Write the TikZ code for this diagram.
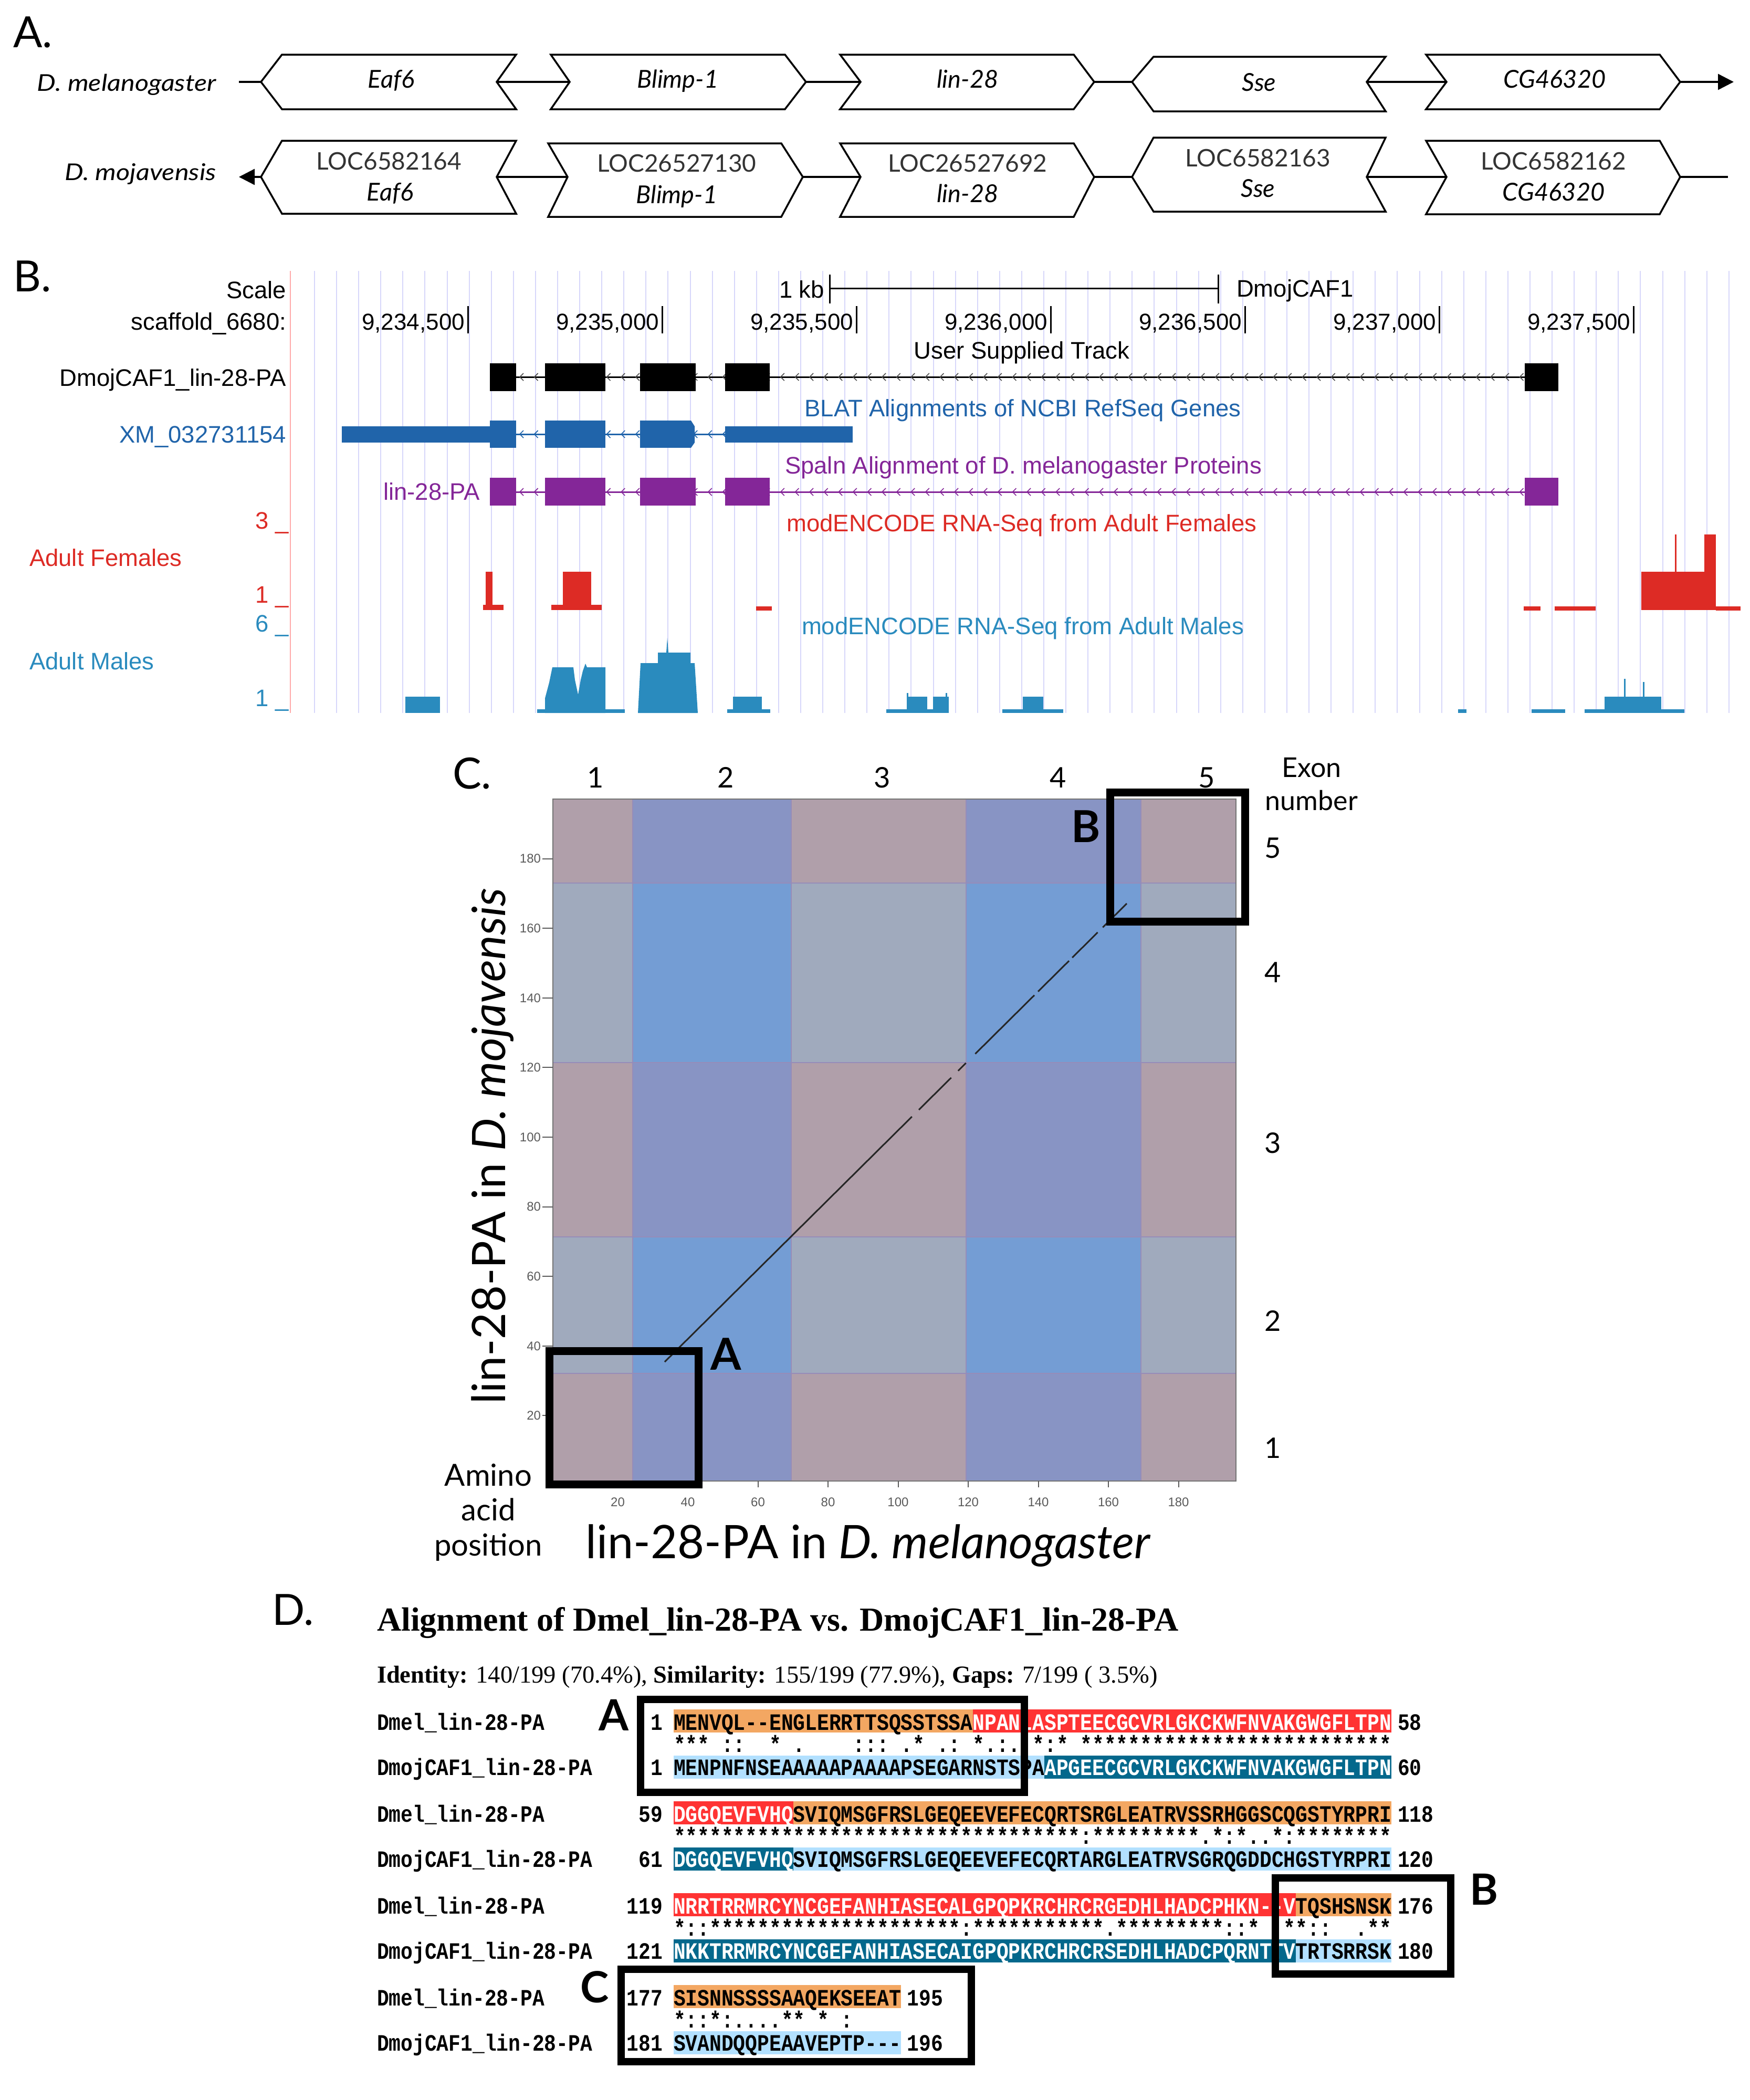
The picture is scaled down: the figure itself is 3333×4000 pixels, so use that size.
\documentclass[tikz,border=0pt]{standalone}
\usepackage{fontspec}
\setmainfont{Lato}
\newfontfamily\wideit[FakeStretch=1.15]{Lato}
\newfontfamily\ucsc{Liberation Sans}
\newfontfamily\tms{Liberation Serif}
\setmonofont[FakeStretch=0.85]{Liberation Mono}
\usetikzlibrary{arrows.meta,calc}
\newcommand{\fsz}[1]{\fontsize{#1pt}{#1pt}\selectfont}
\ExplSyntaxOn
\newcommand{\rep}[2]{\prg_replicate:nn{#1}{#2}}
\ExplSyntaxOff
% colours
\definecolor{ucblue}{RGB}{32,100,170}
\definecolor{ucpurp}{RGB}{132,38,152}
\definecolor{ucred}{RGB}{221,43,37}
\definecolor{ucsky}{RGB}{42,139,190}
\definecolor{gridc}{RGB}{215,215,250}
\definecolor{redline}{RGB}{255,170,170}
\definecolor{cc3}{RGB}{176,159,170}
\definecolor{cc1}{RGB}{136,148,196}
\definecolor{cc2}{RGB}{160,170,189}
\definecolor{cc0}{RGB}{116,157,212}
\definecolor{bandl}{RGB}{150,140,185}
\definecolor{ao}{RGB}{243,167,98}
\definecolor{ar}{RGB}{255,51,51}
\definecolor{adb}{RGB}{4,104,140}
\definecolor{alb}{RGB}{178,224,255}
\definecolor{locgray}{RGB}{51,51,51}
\definecolor{tickgray}{RGB}{90,90,90}
\tikzset{
  every node/.style={inner sep=0pt, outer sep=0pt},
  gbox/.style={draw=black, line width=3.5pt, fill=white, line join=miter},
  gline/.style={draw=black, line width=3.5pt},
  gname/.style={font={\itshape\fsz{47}}, anchor=base},
  locname/.style={font={\fsz{46}}, text=locgray, anchor=base},
  spname/.style={font={\wideit\itshape\fsz{44}}, anchor=base east},
  plabel/.style={font={\fsz{82}}, anchor=base west},
  ut/.style={font={\ucsc\fsz{45.5}}},
  gridl/.style={draw=gridc, line width=2pt},
  chev/.style={line width=1.6pt},
  tkl/.style={font={\ucsc\fsz{24}}, text=tickgray},
  bx/.style={draw=black, line width=15pt},
  bxd/.style={draw=black, line width=14pt},
  boldl/.style={font={\bfseries\fsz{84}}, anchor=base},
  mono/.style={font={\ttfamily\bfseries\fsz{44.67}}},
  diag/.style={draw=black!85, line width=3pt},
}
\newcommand{\lgene}[8]{%
  \coordinate (#1t) at (#2,#8); \coordinate (#1n) at (#5,#8);
  \draw[gbox] (#1t) -- (#3,#6) -- (#4,#6) -- (#1n) -- (#4,#7) -- (#3,#7) -- cycle;}
\newcommand{\rgene}[8]{%
  \coordinate (#1n) at (#3,#8); \coordinate (#1t) at (#5,#8);
  \draw[gbox] (#2,#6) -- (#4,#6) -- (#1t) -- (#4,#7) -- (#2,#7) -- (#1n) -- cycle;}
\newcommand{\cbar}[4]{\fill[#4] ({1283+22.785*(#2-1)},{#1-22}) rectangle ({1283+22.785*#3},{#1+22});}
\newcommand{\seqline}[7]{%
  \node[mono, anchor=base west] (n#1) at (718,#2) {#3};
  \node[mono, anchor=base east] (l#1) at (1262,#2) {#4};
  \node[mono, anchor=base west] (s#1) at (1283,#2) {#5};
  \node[mono, anchor=base west] (r#1) at ({1283+22.785*#7+12},#2) {#6};}
\begin{document}
\begin{tikzpicture}[x=1pt,y=-1pt]
\useasboundingbox[fill=white] (0,0) rectangle (3333,4000);

%% ================= PANEL A =================
\node[plabel] (lblA) at (25,90) {A.};
\node[spname] (spmel) at (412,173) {D. melanogaster};
\node[spname] (spmoj) at (412,343) {D. mojavensis};
\coordinate (s1) at (455,156);
\coordinate (e1) at (3302,156);
\coordinate (s2) at (455,337);
\coordinate (e2) at (3291,337);
% row 1
\lgene{ea1}{497}{537}{983}{946}{104}{208}{156}
\rgene{bl1}{1049}{1085}{1495}{1535}{104}{208}{156}
\rgene{li1}{1600}{1639}{2045}{2084}{104}{208}{156}
\lgene{ss1}{2156}{2197}{2639}{2603}{108}{212}{156}
\rgene{cg1}{2716}{2755}{3161}{3200}{104}{208}{156}
\draw[gline] (s1) -- (ea1t);
\draw[gline] (ea1n) -- (bl1n);
\draw[gline] (bl1t) -- (li1n);
\draw[gline] (li1t) -- (ss1t);
\draw[gline] (ss1n) -- (cg1n);
\draw[gline, -{Triangle[length=30pt,width=30pt]}] (cg1t) -- (e1);
\node[gname] (g1a) at (745,167) {Eaf6};
\node[gname] (g1b) at (1291,167) {Blimp-1};
\node[gname] (g1c) at (1843,167) {lin-28};
\node[gname] (g1d) at (2398,173) {Sse};
\node[gname] (g1e) at (2961,167) {CG46320};
% row 2
\lgene{ea2}{497}{537}{983}{946}{268}{407}{337}
\rgene{bl2}{1044}{1081}{1488}{1529}{273}{413}{337}
\rgene{li2}{1600}{1639}{2045}{2084}{273}{413}{337}
\lgene{ss2}{2156}{2197}{2639}{2603}{262}{403}{337}
\rgene{cg2}{2716}{2755}{3161}{3200}{268}{408}{337}
\draw[gline, -{Triangle[length=30pt,width=30pt]}] (ea2t) -- (s2);
\draw[gline] (ea2n) -- (bl2n);
\draw[gline] (bl2t) -- (li2n);
\draw[gline] (li2t) -- (ss2t);
\draw[gline] (ss2n) -- (cg2n);
\draw[gline] (cg2t) -- (e2);
\node[locname] (l2a) at (741,323) {LOC6582164};
\node[gname] (g2a) at (743,382) {Eaf6};
\node[locname] (l2b) at (1289,327) {LOC26527130};
\node[gname] (g2b) at (1289,387) {Blimp-1};
\node[locname] (l2c) at (1843,327) {LOC26527692};
\node[gname] (g2c) at (1843,385) {lin-28};
\node[locname] (l2d) at (2396,317) {LOC6582163};
\node[gname] (g2d) at (2396,375) {Sse};
\node[locname] (l2e) at (2959,323) {LOC6582162};
\node[gname] (g2e) at (2959,382) {CG46320};

%% ================= PANEL B =================
\node[plabel] (lblB) at (25,555) {B.};
\foreach \i in {0,...,64}{\draw[gridl] ({599+42.09*\i},516) -- ({599+42.09*\i},1358);}
\draw[draw=redline, line width=2pt] (553,516) -- (553,1358);
% scale
\node[ut, anchor=base east] (scl) at (545,568) {Scale};
\node[ut, anchor=base east] (kb) at (1570,567) {1 kb};
\draw[line width=3pt] (1580,523) -- (1580,578);
\draw[line width=3pt] (1580,549) -- (2320,549);
\draw[line width=3pt] (2320,523) -- (2320,578);
\node[ut, anchor=base west] (dcaf) at (2355,565) {DmojCAF1};
\node[ut, anchor=base east] (scf) at (545,628) {scaffold\_6680:};
\foreach \x/\t [count=\k] in {891/{9,234,500},1261/{9,235,000},1631/{9,235,500},2001/{9,236,000},2371/{9,236,500},2741/{9,237,000},3111/{9,237,500}}{
  \draw[line width=3pt] (\x,583) -- (\x,635);
  \node[ut, anchor=base east, font={\ucsc\fsz{44}}] (pos\k) at (\x-6,628) {\t};
}
% user track
\node[ut, anchor=base] (ust) at (1946,683) {User Supplied Track};
\node[ut, anchor=base east] (trk1) at (545,735) {DmojCAF1\_lin-28-PA};
\draw[line width=3pt] (983,718) -- (2904,718);
\foreach \x in {990,1017.6,...,2896}{\draw[chev, black!70] ({\x+7},711) -- (\x,718) -- ({\x+7},725);}
\foreach \a/\b in {933/983,1038/1153,1219/1325,1381/1466,2904/2968}{\fill[black] (\a,692) rectangle (\b,745);}
% refseq
\node[ut, anchor=base, text=ucblue] (blat) at (1948,793) {BLAT Alignments of NCBI RefSeq Genes};
\node[ut, anchor=base east, text=ucblue] (xm) at (545,843) {XM\_032731154};
\draw[draw=ucblue, line width=3pt] (983,827) -- (1381,827);
\foreach \x in {990,1017.6,...,1378}{\draw[chev, ucblue] ({\x+7},820) -- (\x,827) -- ({\x+7},834);}
\fill[ucblue] (651,812) rectangle (933,843);
\fill[ucblue] (933,801) rectangle (983,853);
\fill[ucblue] (1038,801) rectangle (1153,853);
\fill[ucblue] (1219,801) rectangle (1316,853);
\fill[ucblue] (1316,801) -- (1323,812) -- (1323,843) -- (1316,853) -- cycle;
\fill[ucblue] (1381,812) rectangle (1624,843);
% spaln
\node[ut, anchor=base, text=ucpurp] (spaln) at (1949,902) {Spaln Alignment of D. melanogaster Proteins};
\node[ut, anchor=base east, text=ucpurp] (lpa) at (914,952) {lin-28-PA};
\draw[draw=ucpurp, line width=3pt] (983,937) -- (2904,937);
\foreach \x in {990,1017.6,...,2896}{\draw[chev, ucpurp] ({\x+7},930) -- (\x,937) -- ({\x+7},944);}
\foreach \a/\b in {933/983,1038/1153,1219/1325,1381/1466,2904/2968}{\fill[ucpurp] (\a,910) rectangle (\b,963);}
% females
\node[ut, anchor=base east, text=ucred] (f3) at (550,1007) {3 \_};
\node[ut, anchor=base, text=ucred] (mf) at (1946,1012) {modENCODE RNA-Seq from Adult Females};
\node[ut, anchor=base west, text=ucred] (af) at (56,1078) {Adult Females};
\node[ut, anchor=base east, text=ucred] (f1) at (550,1148) {1 \_};
\fill[ucred] (920,1152) rectangle (959,1162);
\fill[ucred] (925,1089) rectangle (938,1162);
\fill[ucred] (1050,1152) rectangle (1146,1162);
\fill[ucred] (1072,1089) rectangle (1126,1162);
\fill[ucred] (1440,1155) rectangle (1470,1163);
\fill[ucred] (2902,1155) rectangle (2934,1163);
\fill[ucred] (2961,1155) rectangle (3039,1163);
\fill[ucred] (3126,1089) rectangle (3268,1162);
\fill[ucred] (3246,1018) rectangle (3268,1162);
\fill[ucred] (3190,1018) rectangle (3193,1162);
\fill[ucred] (3268,1155) rectangle (3315,1163);
% males
\node[ut, anchor=base east, text=ucsky] (m6) at (550,1203) {6 \_};
\node[ut, anchor=base, text=ucsky] (mm) at (1948,1208) {modENCODE RNA-Seq from Adult Males};
\node[ut, anchor=base west, text=ucsky] (am) at (56,1275) {Adult Males};
\node[ut, anchor=base east, text=ucsky] (m1) at (550,1345) {1 \_};
\fill[ucsky] (772,1327) rectangle (838,1358);
\fill[ucsky] (1023,1351) rectangle (1190,1358);
\fill[ucsky] (1038,1358) -- (1038,1330) -- (1046,1300) -- (1052,1271) -- (1092,1271) -- (1095,1295) -- (1101,1323) -- (1106,1295) -- (1110,1278) -- (1115,1264) -- (1118,1271) -- (1153,1271) -- (1153,1358) -- cycle;
\fill[ucsky] (1215,1358) -- (1220,1263) -- (1253,1263) -- (1253,1243) -- (1269,1243) -- (1271,1215) -- (1273,1243) -- (1315,1243) -- (1315,1263) -- (1323,1263) -- (1329,1358) -- cycle;
\fill[ucsky] (1385,1351) rectangle (1467,1358);
\fill[ucsky] (1396,1327) rectangle (1451,1358);
\fill[ucsky] (1688,1351) rectangle (1807,1358);
\fill[ucsky] (1727,1327) rectangle (1766,1358);
\fill[ucsky] (1727,1320) rectangle (1730,1327);
\fill[ucsky] (1777,1327) rectangle (1807,1358);
\fill[ucsky] (1801,1320) rectangle (1804,1327);
\fill[ucsky] (1909,1351) rectangle (2025,1358);
\fill[ucsky] (1948,1327) rectangle (1987,1358);
\fill[ucsky] (2777,1351) rectangle (2793,1358);
\fill[ucsky] (2917,1351) rectangle (2981,1358);
\fill[ucsky] (3018,1351) rectangle (3208,1358);
\fill[ucsky] (3056,1327) rectangle (3164,1358);
\fill[ucsky] (3093,1293) rectangle (3096,1327);
\fill[ucsky] (3129,1299) rectangle (3132,1327);

%% ================= PANEL C =================
\node[plabel] (lblC) at (862,1502) {C.};
\foreach \xa/\xb/\ci in {1053/1205/1,1205/1507/2,1507/1840/3,1840/2173/4,2173/2354/5}{
  \foreach \ya/\yb/\ri in {1522/1682/5,1682/2024/4,2024/2356/3,2356/2616/2,2616/2821/1}{
    \pgfmathtruncatemacro{\cidx}{mod(\ci,2)*2+mod(\ri,2)}
    \fill[cc\cidx] (\xa,\ya) rectangle (\xb,\yb);
  }
}
\foreach \x in {1205,1507,1840,2173}{\draw[draw=bandl, line width=2pt] (\x,1522) -- (\x,2821);}
\foreach \y in {1682,2024,2356,2616}{\draw[draw=bandl, line width=2pt] (1053,\y) -- (2354,\y);}
\draw[draw=black!55, line width=2.5pt] (1053,1522) rectangle (2354,2821);
\foreach \v in {20,40,...,180}{
  \draw[draw=tickgray, line width=2pt] (1033,{2829-6.63*\v}) -- (1053,{2829-6.63*\v});
  \node[tkl, anchor=east] (yt\v) at (1030,{2829-6.63*\v}) {\v};
  \draw[draw=tickgray, line width=2pt] ({1043+6.675*\v},2821) -- ({1043+6.675*\v},2833);
  \node[tkl, anchor=base] (xt\v) at ({1043+6.675*\v},2869) {\v};
}
\coordinate (ds) at (1266,2594);
\coordinate (de) at (2146,1721);
\foreach \a/\b in {0/0.535,0.55/0.62,0.635/0.652,0.672/0.80,0.808/0.875,0.882/0.937,0.948/1}{
  \draw[diag] ($(ds)!\a!(de)$) -- ($(ds)!\b!(de)$);
}
\draw[bx] (1046,2573) rectangle (1330,2827);
\draw[bx] (2114,1509) rectangle (2371,1755);
\node[boldl] (cA) at (1383,2609) {A};
\node[boldl] (cB) at (2068,1604) {B};
\foreach \x/\t in {1134/1,1382/2,1680/3,2015/4,2298/5}{\node[font={\fsz{54}}, anchor=base] (ct\t) at (\x,1500) {\t};}
\node[font={\fsz{52}}, anchor=base] (exon1) at (2498,1480) {Exon};
\node[font={\fsz{52}}, anchor=base] (exon2) at (2498,1543) {number};
\foreach \y/\t in {1634/5,1871/4,2196/3,2535/2,2777/1}{\node[font={\fsz{54}}, anchor=base] (cr\t) at (2424,\y) {\t};}
\node[font={\fsz{58}}, anchor=base] (aa1) at (930,2830) {Amino};
\node[font={\fsz{58}}, anchor=base] (aa2) at (930,2896) {acid};
\node[font={\fsz{58}}, anchor=base] (aa3) at (930,2963) {position};
\node[font={\fsz{88}}, anchor=base] (xlab) at (1654,2968) {lin-28-PA in \textit{D. melanogaster}};
\node[font={\fsz{88}}, anchor=base, rotate=90] (ylab) at (962,2183) {lin-28-PA in \textit{D. mojavensis}};

%% ================= PANEL D =================
\node[plabel] (lblD) at (518,3095) {D.};
\node[font={\tms\bfseries\fsz{64}}, anchor=base west] (title) at (718,3106) {Alignment of Dmel\_lin-28-PA vs. DmojCAF1\_lin-28-PA};
\node[font={\tms\fsz{46.5}}, anchor=base west] (ident) at (718,3205) {\textbf{Identity:} 140/199 (70.4\%), \textbf{Similarity:} 155/199 (77.9\%), \textbf{Gaps:} 7/199 ( 3.5\%)};
% bars
\cbar{3278}{1}{25}{ao}\cbar{3278}{26}{60}{ar}
\cbar{3366}{1}{31}{alb}\cbar{3366}{32}{60}{adb}
\cbar{3453}{1}{10}{ar}\cbar{3453}{11}{60}{ao}
\cbar{3541}{1}{10}{adb}\cbar{3541}{11}{60}{alb}
\cbar{3628}{1}{52}{ar}\cbar{3628}{53}{60}{ao}
\cbar{3716}{1}{52}{adb}\cbar{3716}{53}{60}{alb}
\cbar{3803}{1}{19}{ao}
\cbar{3891}{1}{19}{alb}
% block 1
\seqline{a1}{3295}{Dmel\_lin-28-PA}{1}{MENVQL--ENGLERRTTSQSSTSSA{\color{white}NPANLASPTEECGCVRLGKCKWFNVAKGWGFLTPN}}{58}{60}
\node[mono, anchor=base west] (c1) at (1283,3337) {***~::~~*~.~~~~:::~.*~.:~*.:.~*:*~\rep{26}{*}};
\seqline{b1}{3381}{DmojCAF1\_lin-28-PA}{1}{MENPNFNSEAAAAAPAAAAPSEGARNSTSPA{\color{white}APGEECGCVRLGKCKWFNVAKGWGFLTPN}}{60}{60}
% block 2
\seqline{a2}{3470}{Dmel\_lin-28-PA}{59}{{\color{white}DGGQEVFVHQ}SVIQMSGFRSLGEQEEVEFECQRTSRGLEATRVSSRHGGSCQGSTYRPRI}{118}{60}
\node[mono, anchor=base west] (c2) at (1283,3512) {\rep{34}{*}:\rep{9}{*}.*:*..*:\rep{8}{*}};
\seqline{b2}{3556}{DmojCAF1\_lin-28-PA}{61}{{\color{white}DGGQEVFVHQ}SVIQMSGFRSLGEQEEVEFECQRTARGLEATRVSGRQGDDCHGSTYRPRI}{120}{60}
% block 3
\seqline{a3}{3645}{Dmel\_lin-28-PA}{119}{{\color{white}NRRTRRMRCYNCGEFANHIASECALGPQPKRCHRCRGEDHLHADCPHKN--V}TQSHSNSK}{176}{60}
\node[mono, anchor=base west] (c3) at (1283,3687) {*::\rep{21}{*}:\rep{11}{*}.\rep{9}{*}::*~~**::~~.**};
\seqline{b3}{3731}{DmojCAF1\_lin-28-PA}{121}{{\color{white}NKKTRRMRCYNCGEFANHIASECAIGPQPKRCHRCRSEDHLHADCPQRNTTV}TRTSRRSK}{180}{60}
% block 4
\seqline{a4}{3820}{Dmel\_lin-28-PA}{177}{SISNNSSSSAAQEKSEEAT}{195}{19}
\node[mono, anchor=base west] (c4) at (1283,3862) {*::*:....**~*~:};
\seqline{b4}{3906}{DmojCAF1\_lin-28-PA}{181}{SVANDQQPEAAVEPTP---}{196}{19}
% highlight boxes
\draw[bxd] (1220,3237) rectangle (1951,3414);
\draw[bxd] (2429,3577) rectangle (2763,3760);
\draw[bxd] (1183,3751) rectangle (1850,3927);
\node[boldl, font={\bfseries\fsz{82}}] (dA) at (1169,3296) {A};
\node[boldl, font={\bfseries\fsz{82}}] (dB) at (2826,3628) {B};
\node[boldl, font={\bfseries\fsz{82}}] (dC) at (1133,3814) {C};
\end{tikzpicture}
\end{document}
